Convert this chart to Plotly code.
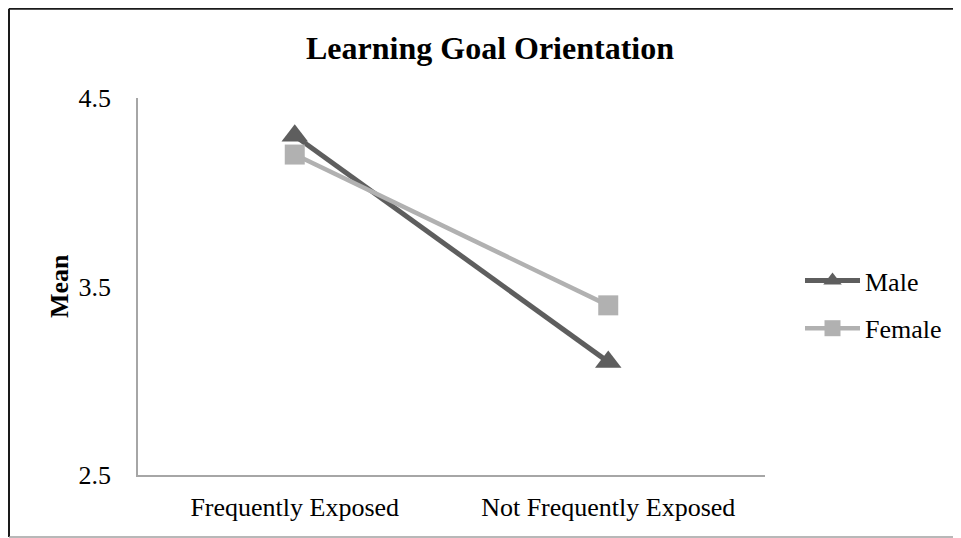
import plotly.graph_objects as go

categories = ["Frequently Exposed", "Not Frequently Exposed"]
male = [4.3, 3.1]
female = [4.2, 3.4]
y_ticks = [2.5, 3.5, 4.5]
y_tick_labels = ["2.5", "3.5", "4.5"]

FONT = "Liberation Serif, Times New Roman, serif"
W, H = 961, 538
OFF = 8  # page body margin
L, T = 138 - OFF, 98 - OFF
R = W - (765 - OFF)
B = H - (475 - OFF)
pw, ph = W - L - R, H - T - B

fig = go.Figure()
fig.add_trace(go.Scatter(
    x=categories, y=male, name="Male", mode="lines+markers", legendgroup="m",
    line=dict(color="#5e5e5e", width=5),
    marker=dict(symbol="triangle-up", size=23, color="#5e5e5e"),
))
fig.add_trace(go.Scatter(
    x=categories, y=female, name="Female", mode="lines+markers", legendgroup="f",
    line=dict(color="#b1b1b1", width=4.5),
    marker=dict(symbol="square", size=20, color="#b1b1b1"),
))

def px(x):  # page x -> paper
    return (x - OFF - L) / pw

def py(y):  # page y -> paper
    return (H - B - (y - OFF)) / ph

# outer chart frame (right side falls outside the view)
fig.add_shape(type="line", xref="paper", yref="paper", x0=px(9), x1=px(975), y0=py(8.8), y1=py(8.8),
              line=dict(color="#1a1a1a", width=2))
fig.add_shape(type="line", xref="paper", yref="paper", x0=px(9), x1=px(9), y0=py(8.8), y1=py(537),
              line=dict(color="#1a1a1a", width=2))
fig.add_shape(type="line", xref="paper", yref="paper", x0=px(9), x1=px(975), y0=py(537), y1=py(537),
              line=dict(color="#a0a0a0", width=1.5))

fig.add_annotation(text="<b>Mean</b>", xref="paper", yref="paper", x=px(59), y=py(286),
                   textangle=-90, showarrow=False, xanchor="center", yanchor="middle",
                   font=dict(family=FONT, size=26, color="black"))

fig.update_layout(
    width=W, height=H,
    margin=dict(l=L, r=R, t=T, b=B),
    paper_bgcolor="white", plot_bgcolor="white",
    font=dict(family=FONT, size=26, color="black"),
    title=dict(text="<b>Learning Goal Orientation</b>", x=px(490), xref="paper", xanchor="center",
               y=1 - (48 - OFF) / H, yanchor="middle", font=dict(family=FONT, size=32, color="black")),
    xaxis=dict(type="category", range=[-0.5, 1.5], showline=True, linecolor="#a6a6a6", linewidth=1.5,
               showgrid=False, zeroline=False, ticks="", ticklabelstandoff=8,
               tickfont=dict(family=FONT, size=26)),
    yaxis=dict(range=[2.5, 4.5], tickvals=y_ticks, ticktext=y_tick_labels, showline=True,
               linecolor="#a6a6a6", linewidth=1.5, showgrid=False, zeroline=False, ticks="",
               ticklabelstandoff=20, tickfont=dict(family=FONT, size=26)),
    legend=dict(x=px(800), xanchor="left", y=py(304.5), yanchor="middle", itemwidth=55,
                traceorder="grouped", tracegroupgap=11,
                font=dict(family=FONT, size=26), bgcolor="rgba(0,0,0,0)"),
    showlegend=True,
)

fig.write_html("out.html")
